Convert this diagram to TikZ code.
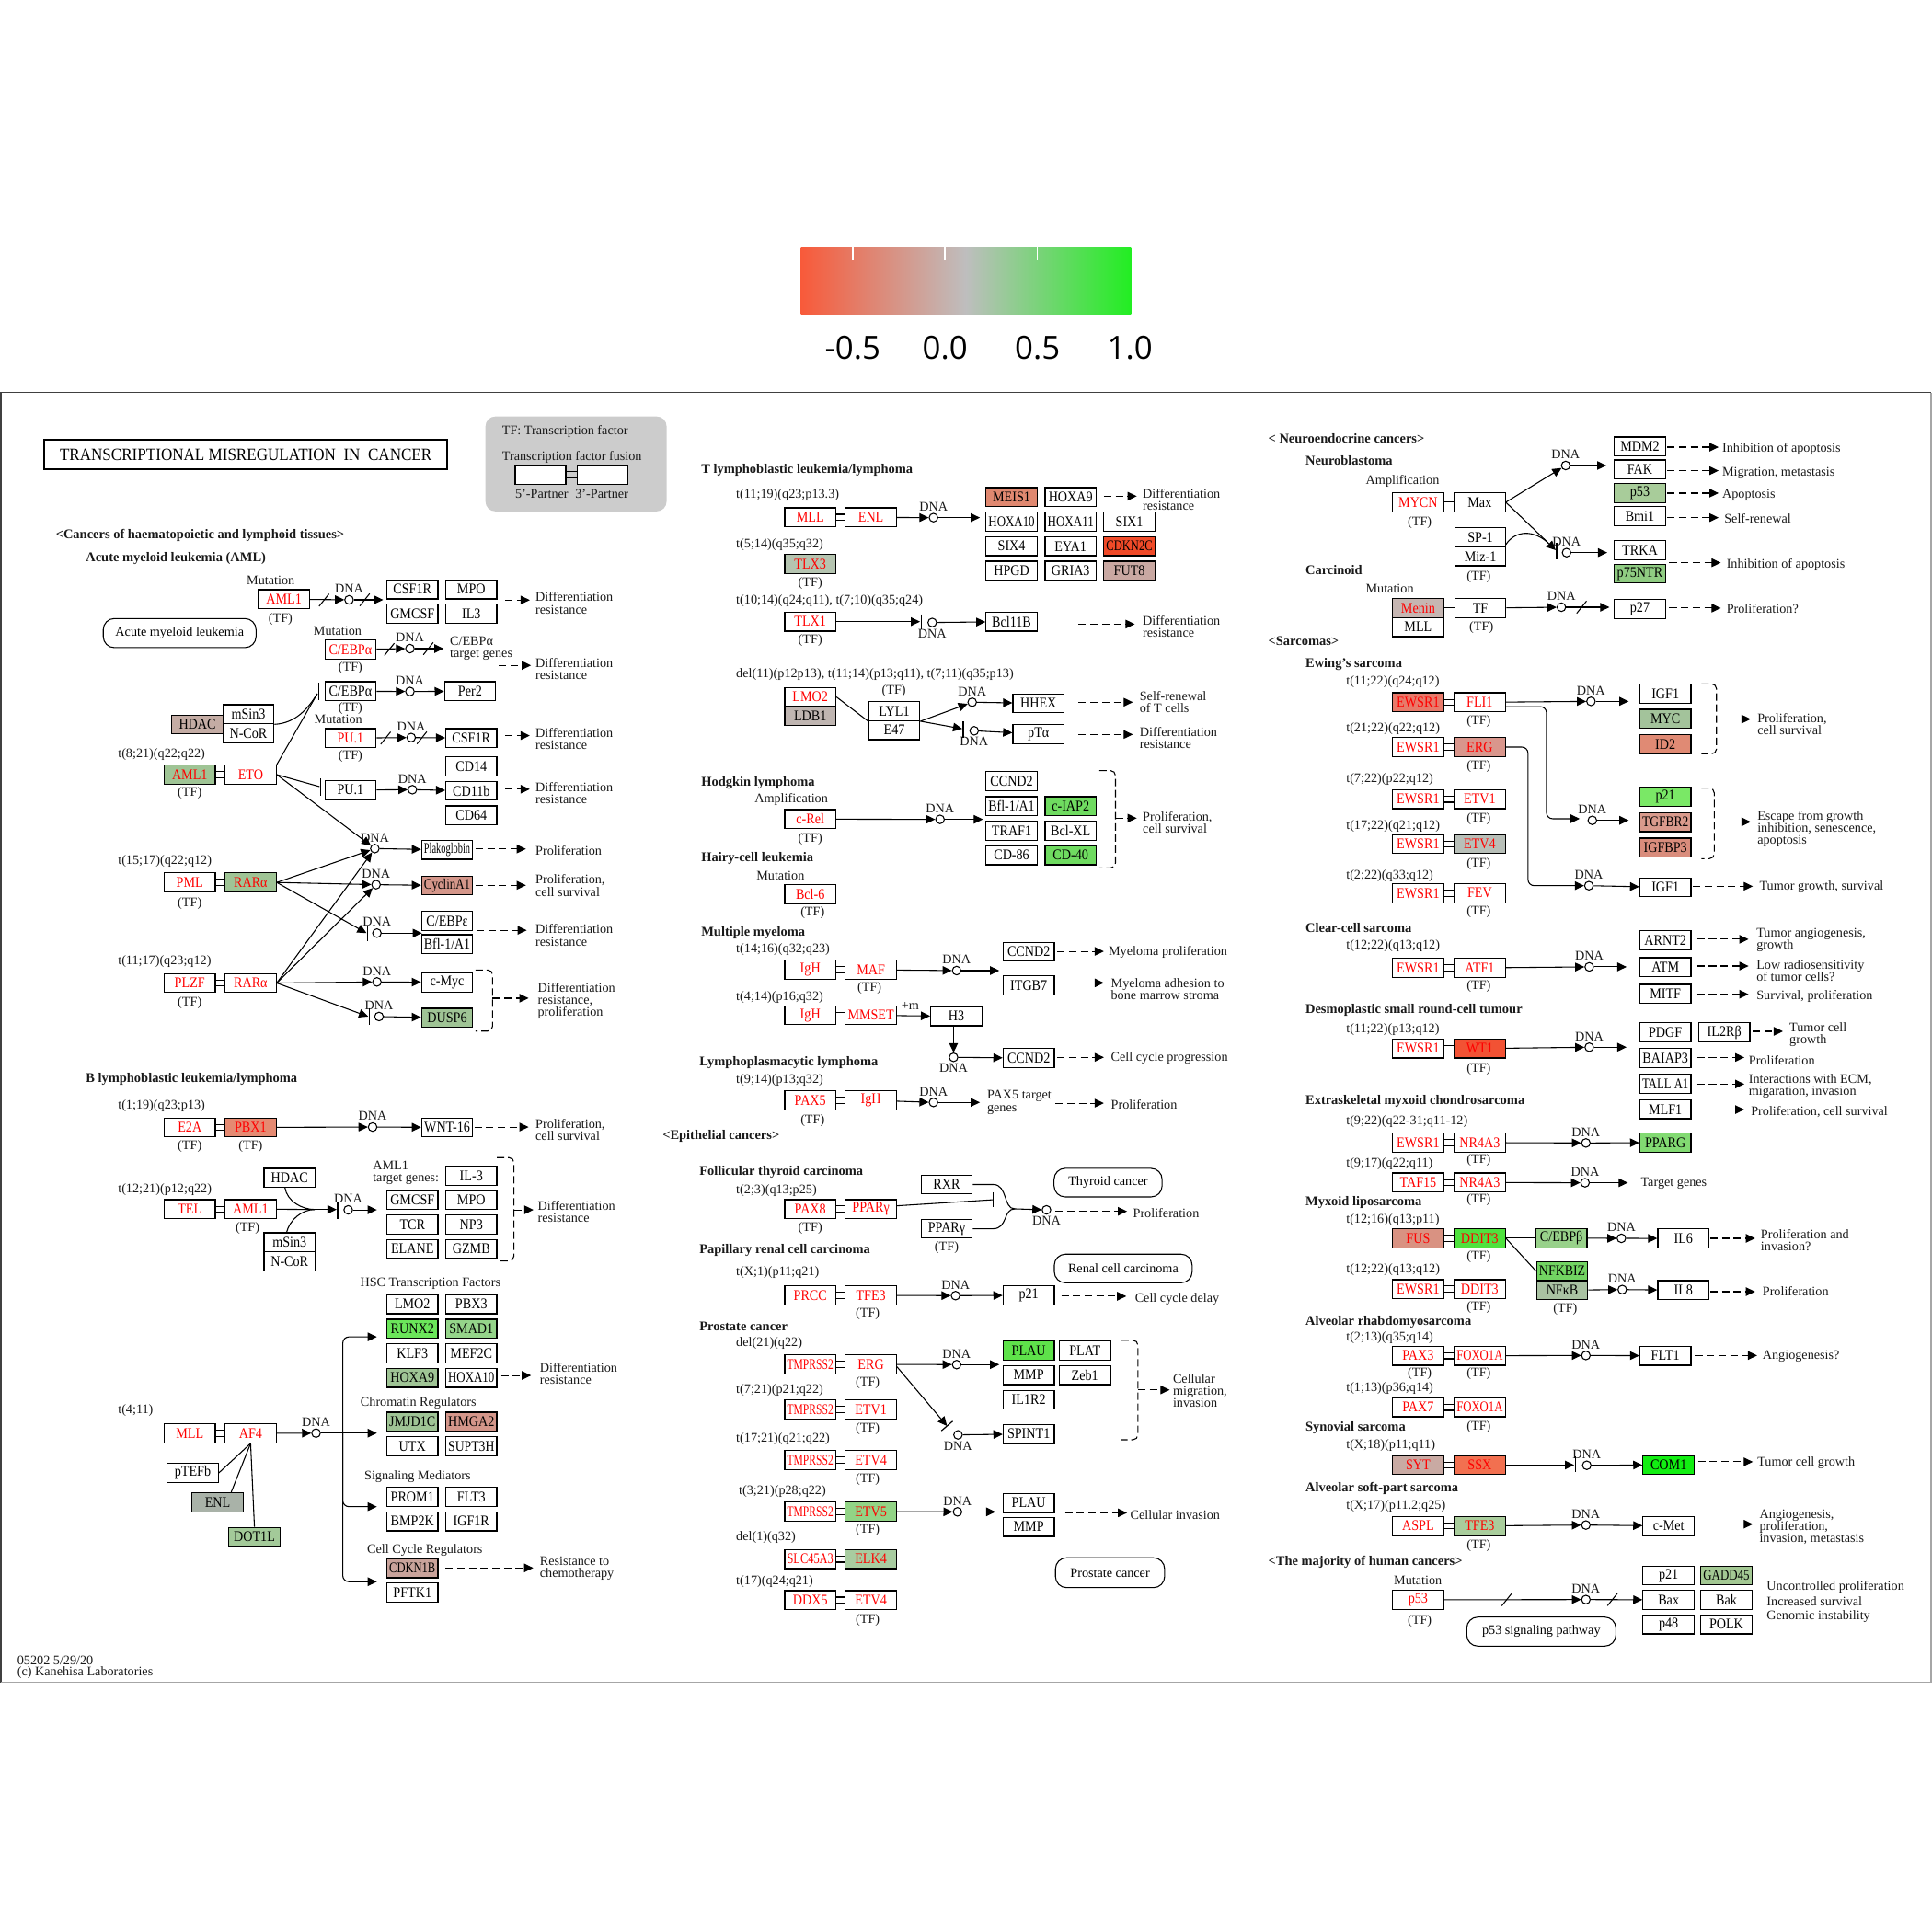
\documentclass[tikz,border=0pt]{standalone}
\usepackage{fontspec}
\setmainfont{Liberation Serif}
\newfontfamily\cbfont{Open Sans}
\usepackage{graphicx}
\usetikzlibrary{arrows.meta,positioning}

\definecolor{kred}{HTML}{FF0000}
\definecolor{cHdac}{HTML}{C4ACA4}
\definecolor{cGa}{HTML}{9FC495}
\definecolor{cCyc}{HTML}{D4968A}
\definecolor{cPbx}{HTML}{E58A72}
\definecolor{cRunx}{HTML}{6BE65A}
\definecolor{cSmad}{HTML}{95D58A}
\definecolor{cEnl}{HTML}{A9B2A8}
\definecolor{cDot}{HTML}{A3CA99}
\definecolor{cCdk}{HTML}{C9A39B}
\definecolor{cMeis}{HTML}{E08870}
\definecolor{cCdkc}{HTML}{F04A28}
\definecolor{cFut}{HTML}{C9A8A2}
\definecolor{cTlx}{HTML}{B5C4B0}
\definecolor{cLdb}{HTML}{BFB5B1}
\definecolor{cBrG}{HTML}{6FDB60}
\definecolor{cPlau}{HTML}{5EE24A}
\definecolor{cEtv5}{HTML}{92D486}
\definecolor{cElk}{HTML}{A8CCA0}
\definecolor{cP53}{HTML}{A8CC9A}
\definecolor{cP75}{HTML}{8FCC82}
\definecolor{cMen}{HTML}{C6B6B2}
\definecolor{cEws}{HTML}{E87A6A}
\definecolor{cMyc}{HTML}{A3C39B}
\definecolor{cId}{HTML}{E08A74}
\definecolor{cErg}{HTML}{D9968C}
\definecolor{cP21}{HTML}{7AE866}
\definecolor{cTgf}{HTML}{D99A8C}
\definecolor{cIgfbp}{HTML}{D98C7C}
\definecolor{cEtv4}{HTML}{B8BFB8}
\definecolor{cWt}{HTML}{F25234}
\definecolor{cPparg}{HTML}{82DA72}
\definecolor{cFus}{HTML}{D99282}
\definecolor{cDdit}{HTML}{4FE23E}
\definecolor{cCebpb}{HTML}{98D18A}
\definecolor{cNfkbiz}{HTML}{72D462}
\definecolor{cNfkb}{HTML}{A9C2A2}
\definecolor{cSyt}{HTML}{C9AAA3}
\definecolor{cSsx}{HTML}{F27050}
\definecolor{cCom}{HTML}{12EE12}
\definecolor{cTfe}{HTML}{A9CD9C}
\definecolor{cGadd}{HTML}{A3C893}
\definecolor{cLeg}{HTML}{CCCCCC}
\definecolor{cbL}{HTML}{F85A3A}
\definecolor{cbM}{HTML}{BEBEBE}
\definecolor{cbR}{HTML}{22EE22}

\newsavebox\gbox
\newcommand\fitg[1]{\sbox\gbox{#1}\pgfmathsetmacro\gfac{min(0.88,37.5/\the\wd\gbox)}\scalebox{\gfac}[1]{\usebox\gbox}}
\newcommand\gfont{\fontsize{12}{12}\selectfont}
\newcommand\lfont{\fontsize{10.6}{9.8}\selectfont}
\newcommand\hfont{\fontsize{10.8}{11}\selectfont\bfseries}

\tikzset{
 gene/.style={draw, line width=0.9pt, minimum width=41.5pt, minimum height=15.4pt, inner sep=0pt, font=\gfont},
 mut/.style={text=kred},
 dnac/.style={circle, draw, fill=white, minimum size=7pt, inner sep=0pt, line width=0.8pt},
 lab/.style={font=\lfont, inner sep=0pt, align=left, text=black!90},
 arr/.style={-{Triangle[length=7.5pt,width=7pt]}, line width=0.8pt},
 darr/.style={arr, dash pattern=on 6pt off 3.5pt},
 ln/.style={line width=0.8pt},
 brkt/.style={line width=0.8pt, dash pattern=on 6pt off 3pt, rounded corners=4pt},
 pill/.style={draw, line width=0.8pt, rounded corners=9pt, font=\lfont, inner sep=0pt},
}

\newcounter{tc}
\newcommand\gn[5]{\node[gene,fill=#4,#5] (#1) at (#2) {\fitg{#3}};}
\newcommand\dn[3]{\node[dnac] (#1) at (#2) {}; \node[lab,#3=1.3pt of #1] (#1l) {DNA};}
\newcommand\tx[3][west]{\stepcounter{tc}\node[lab,anchor=#1] (tx\arabic{tc}) at (#2) {#3};}
\newcommand\hd[2]{\stepcounter{tc}\node[lab,font=\hfont,anchor=west] (tx\arabic{tc}) at (#1) {#2};}
\newcommand\TF[1]{\tx[center]{#1}{(TF)}}
\newcommand\fus[2]{\draw[ln] ([yshift=2.5pt]#1.east) -- ([yshift=2.5pt]#2.west); \draw[ln] ([yshift=-2.5pt]#1.east) -- ([yshift=-2.5pt]#2.west);}
\newcommand\brk[4]{\draw[brkt] (#1,#3) -- (#2,#3) -- (#2,#4) -- (#1,#4);}
\newcommand\ibar[3]{\draw[line width=0.9pt] (#1,#2) -- (#1,#3);}
\newcommand\slsh[2]{\draw[ln] ({#1-4},{#2+5}) -- ({#1+4},{#2-5});}

\begin{document}
\begin{tikzpicture}[x=1pt,y=-1pt]
\useasboundingbox (0,0) rectangle (1568,1568);

% ---------- colour key ----------
\shade[left color=cbL, right color=cbR, middle color=cbM] (650,201) rectangle (918,255);
\foreach \t in {692,767,842} {\draw[white, line width=1.2pt] (\t,201) -- (\t,211);}
\node[font=\cbfont\fontsize{26}{26}\selectfont] (cb1) at (692,282) {-0.5};
\node[font=\cbfont\fontsize{26}{26}\selectfont] (cb2) at (767,282) {0.0};
\node[font=\cbfont\fontsize{26}{26}\selectfont] (cb3) at (842,282) {0.5};
\node[font=\cbfont\fontsize{26}{26}\selectfont] (cb4) at (917,282) {1.0};

% ---------- frame ----------
\draw[black!75, line width=1pt] (0.7,1365.5) -- (0.7,318.5) -- (1567.3,318.5);
\draw[black!35, line width=1pt] (0.7,1365.5) -- (1567.3,1365.5) -- (1567.3,318.5);

% ---------- title & legend ----------
\node[draw, line width=1.6pt, minimum width=327pt, minimum height=24pt, inner sep=0pt] (title) at (199.5,369) {\scalebox{0.91}[1]{\fontsize{14}{14}\selectfont TRANSCRIPTIONAL MISREGULATION\ \ IN\ \ CANCER}};
\node[fill=cLeg, rounded corners=8pt, minimum width=147pt, minimum height=77pt, inner sep=0pt] (legend) at (467.5,376.5) {};
\tx{407.4,350.4}{TF: Transcription factor}
\tx{407.4,370.8}{Transcription factor fusion}
\node[draw, fill=white, line width=0.9pt, minimum width=41pt, minimum height=15.5pt, inner sep=0pt] (lg5) at (438.7,385.5) {};
\node[draw, fill=white, line width=0.9pt, minimum width=41pt, minimum height=15.5pt, inner sep=0pt] (lg3) at (489,385.5) {};
\fus{lg5}{lg3}
\tx[center]{439.7,400.7}{5'-Partner}
\tx[center]{488.4,400.7}{3'-Partner}

% ================= AML =================
\hd{45.2,434.3}{<Cancers of haematopoietic and lymphoid tissues>}
\hd{69.5,453}{Acute myeloid leukemia (AML)}
\tx[center]{219.7,471.2}{Mutation}
\gn{a1}{230.5,486.3}{AML1}{white}{mut}
\TF{227.7,502.8}
\dn{d1}{283.3,486.8}{above}
\gn{csf1r}{334.7,478.3}{CSF1R}{white}{}
\gn{mpo}{382.5,478.3}{MPO}{white}{}
\gn{gmcsf}{334.7,498}{GMCSF}{white}{}
\gn{il3}{382.5,498}{IL3}{white}{}
\tx{434.5,489.5}{Differentiation\\resistance}
\node[pill, minimum width=124pt, minimum height=23.6pt] (amlbox) at (145.8,513.8) {Acute myeloid leukemia};
\tx[center]{274,512.2}{Mutation}
\gn{cebpa1}{284.4,527}{C/EBPα}{white}{mut}
\TF{284.4,541.8}
\dn{d2}{332.7,526.4}{above}
\tx{365,526.2}{C/EBPα\\target genes}
\tx{434.5,542.6}{Differentiation\\resistance}
\gn{cebpa2}{284.4,561}{C/EBPα}{white}{}
\TF{284.4,575}
\dn{d3}{332.7,561.2}{above}
\gn{per2}{381.5,561}{Per2}{white}{}
\gn{hdac}{160.2,588}{HDAC}{cHdac}{}
\gn{msin3}{201.6,579.7}{mSin3}{white}{}
\gn{ncor}{201.6,595.1}{N-CoR}{white}{}
\tx[center]{274.6,584.1}{Mutation}
\gn{pu1r}{284.4,599}{PU.1}{white}{mut}
\TF{284.4,613.5}
\dn{d4}{333.7,598.6}{above}
\gn{csf1rb}{382.5,599}{CSF1R}{white}{}
\tx{434.5,599.3}{Differentiation\\resistance}
\tx{95.6,612.3}{t(8;21)(q22;q22)}
\gn{aml1b}{154,628.7}{AML1}{cGa}{mut}
\gn{eto}{203.4,628.7}{ETO}{white}{mut}
\TF{154,643.4}
\gn{pu1b}{284.4,641.2}{PU.1}{white}{}
\dn{d5}{334.7,640.9}{above}
\gn{cd14}{382.5,622}{CD14}{white}{}
\gn{cd11b}{382.5,641.8}{CD11b}{white}{}
\gn{cd64}{382.5,661.8}{CD64}{white}{}
\tx{434.5,643.6}{Differentiation\\resistance}
\dn{d6}{304.2,688.7}{above}
\gn{plak}{362.9,689.7}{Plakoglobin}{white}{}
\tx{434.5,690}{Proliferation}
\tx{95.6,698.6}{t(15;17)(q22;q12)}
\gn{pml}{154,716.2}{PML}{white}{mut}
\gn{rara1}{203.4,716.2}{RARα}{cGa}{mut}
\TF{154,733}
\dn{d7}{305.2,718}{above}
\gn{cyca1}{362.9,718.7}{CyclinA1}{cCyc}{}
\tx{434.5,718.7}{Proliferation,\\cell survival}
\dn{d8}{305.9,757.3}{above}
\gn{cebpe}{362.9,747.3}{C/EBPε}{white}{}
\gn{bfl1}{362.9,766.3}{Bfl-1/A1}{white}{}
\tx{434.5,759}{Differentiation\\resistance}
\tx{95.6,780.3}{t(11;17)(q23;q12)}
\gn{plzf}{154,797.8}{PLZF}{white}{mut}
\gn{rara2}{203.4,797.8}{RARα}{white}{mut}
\TF{154,813.9}
\dn{d9}{305.9,796.9}{above}
\gn{cmyc}{362.9,797.3}{c-Myc}{white}{}
\dn{d10}{307.6,825}{above}
\gn{dusp6}{362.9,826}{DUSP6}{cGa}{}
\brk{385.9}{399.8}{787.2}{836.8}
\tx{436.3,812.1}{Differentiation\\resistance,\\proliferation}

\fus{aml1b}{eto} \fus{pml}{rara1} \fus{plzf}{rara2}
\draw[arr] (a1) -- (d1); \slsh{263}{487}
\draw[arr] (d1) -- (311,486.8); \slsh{296}{486.8}
\draw[darr] (410,487) -- (430,487);
\draw[arr] (cebpa1) -- (d2); \slsh{316}{527}
\draw[arr] (d2) -- (360,526.4); \slsh{347.6}{526.4}
\draw[darr] (405,540) -- (431,540);
\draw[arr] (cebpa2) -- (d3); \draw[arr] (d3) -- (per2);
\draw[arr] (pu1r) -- (d4); \slsh{313}{599}
\draw[arr] (d4) -- (csf1rb); \slsh{342.4}{598.8}
\draw[darr] (410,597) -- (430,597);
\draw[arr] (pu1b) -- (d5); \draw[arr] (d5) -- (cd11b);
\draw[darr] (410,640.5) -- (430,640.5);
\draw[ln] (msin3.south east) .. controls (240,587) and (250,575) .. (257.5,563);
\ibar{258.5}{554}{568}
\draw[ln] (eto.north east) -- (257.5,563);
\draw[ln] (eto.east) -- (259.3,638.4);
\ibar{260}{632}{646}
\draw[arr] (eto.east) -- (d6);
\draw[arr] (rara1.east) -- (d6);
\draw[arr] (rara1.east) -- (d7);
\draw[arr] (rara1.east) -- (297.5,757.3);
\ibar{298.2}{751}{764}
\draw[arr] (rara2.east) -- (d6);
\draw[arr] (rara2.east) -- (d7);
\draw[arr] (rara2.east) -- (d9);
\draw[arr] (rara2.east) -- (298.8,825);
\ibar{299.6}{818}{832}
\draw[arr] (d6) -- (plak); \draw[arr] (d7) -- (cyca1);
\draw[arr] (d8) -- (342.4,757.3);
\draw[arr] (d9) -- (cmyc); \draw[arr] (d10) -- (dusp6);
\draw[darr] (385.9,689) -- (426.9,689);
\draw[darr] (385.9,718.5) -- (426.9,718.5);
\draw[darr] (386.9,755) -- (427.5,755);
\draw[darr] (399.8,810.1) -- (429,810.1);

% ================= B lymphoblastic =================
\hd{69.5,876.1}{B lymphoblastic leukemia/lymphoma}
\tx{95.6,897.3}{t(1;19)(q23;p13)}
\gn{e2a}{154,915}{E2A}{white}{mut}
\gn{pbx1}{203.4,915}{PBX1}{cPbx}{mut}
\TF{154,930.1} \TF{203.4,930.1}
\dn{d11}{302.4,914.7}{above}
\gn{wnt16}{362.9,915}{WNT-16}{white}{}
\tx{434.5,916.7}{Proliferation,\\cell survival}
\tx{95.6,965.2}{t(12;21)(p12;q22)}
\gn{tel}{154,981.4}{TEL}{white}{mut}
\gn{aml1c}{203.4,981.4}{AML1}{white}{mut}
\TF{200.9,996.8}
\gn{hdacb}{235,956}{HDAC}{white}{}
\gn{msin3b}{235,1008.2}{mSin3}{white}{}
\gn{ncorb}{235,1023.6}{N-CoR}{white}{}
\dn{d12}{282.6,981.9}{above}
\tx{302.4,951.8}{AML1\\target genes:}
\gn{il3b}{382.5,954.2}{IL-3}{white}{}
\gn{gmcsfb}{334.7,973.9}{GMCSF}{white}{}
\gn{mpob}{382.5,973.9}{MPO}{white}{}
\gn{tcr}{334.7,993.8}{TCR}{white}{}
\gn{np3}{382.5,993.8}{NP3}{white}{}
\gn{elane}{334.7,1013.7}{ELANE}{white}{}
\gn{gzmb}{382.5,1013.7}{GZMB}{white}{}
\brk{403.2}{417.1}{939.5}{1023.4}
\tx{436.3,983.6}{Differentiation\\resistance}
\fus{e2a}{pbx1} \fus{tel}{aml1c}
\draw[arr] (pbx1) -- (d11); \draw[arr] (d11) -- (wnt16);
\draw[darr] (385,914.7) -- (429,914.7);
\coordinate (jt) at (255.5,981.6);
\draw[ln] (aml1c.east) -- (jt);
\draw[ln] (231.2,963.7) .. controls (233,975) and (245,981.6) .. (jt);
\draw[ln] (232.5,1000.5) .. controls (235,990) and (245,981.6) .. (jt);
\draw[arr] (jt) -- (273.2,981.6);
\ibar{274}{975}{989}
\draw[arr] (d12) -- (305.9,981.9);
\draw[darr] (417.1,981.9) -- (433,981.9);

% HSC etc
\tx[center]{349.3,1041.6}{HSC Transcription Factors}
\gn{lmo2b}{334.7,1058.5}{LMO2}{white}{}
\gn{pbx3}{382.5,1058.5}{PBX3}{white}{}
\gn{runx2}{334.7,1078.4}{RUNX2}{cRunx}{}
\gn{smad1}{382.5,1078.4}{SMAD1}{cSmad}{}
\gn{klf3}{334.7,1098.3}{KLF3}{white}{}
\gn{mef2c}{382.5,1098.3}{MEF2C}{white}{}
\gn{hoxa9b}{334.7,1118.2}{HOXA9}{cGa}{}
\gn{hoxa10b}{382.5,1118.2}{HOXA10}{white}{}
\tx{438,1114.5}{Differentiation\\resistance}
\tx[center]{339.6,1138.6}{Chromatin Regulators}
\gn{jmjd1c}{334.7,1153.8}{JMJD1C}{cGa}{}
\gn{hmga2}{382.5,1153.8}{HMGA2}{cCyc}{}
\gn{utx}{334.7,1173.7}{UTX}{white}{}
\gn{supt3h}{382.5,1173.7}{SUPT3H}{white}{}
\tx[center]{338.9,1198.4}{Signaling Mediators}
\gn{prom1}{334.7,1214.8}{PROM1}{white}{}
\gn{flt3}{382.5,1214.8}{FLT3}{white}{}
\gn{bmp2k}{334.7,1234.7}{BMP2K}{white}{}
\gn{igf1r}{382.5,1234.7}{IGF1R}{white}{}
\tx[center]{344.8,1258.1}{Cell Cycle Regulators}
\gn{cdkn1b}{334.7,1272.8}{CDKN1B}{cCdk}{}
\gn{pftk1}{334.7,1292.5}{PFTK1}{white}{}
\tx{438,1273.1}{Resistance to\\chemotherapy}
\tx{95.6,1144.4}{t(4;11)}
\gn{mll}{154,1163.3}{MLL}{white}{mut}
\gn{af4}{203.4,1163.3}{AF4}{white}{mut}
\dn{d13}{256.5,1163.1}{above}
\gn{ptefb}{156.4,1195.4}{pTEFb}{white}{}
\gn{enlb}{176.6,1219.3}{ENL}{cEnl}{}
\gn{dot1l}{206.5,1247.3}{DOT1L}{cDot}{}
\fus{mll}{af4}
\draw[arr] (af4) -- (d13);
\draw[arr] (d13) -- (305.9,1163.1);
\draw[arr, rounded corners=5pt] (278.2,1163.1) -- (278.2,1085) -- (305.9,1085);
\draw[arr, rounded corners=5pt] (278.2,1163.1) -- (278.2,1222.8) -- (305.9,1222.8);
\draw[arr, rounded corners=5pt] (278.2,1163.1) -- (278.2,1283.7) -- (305.9,1283.7);
\draw[ln] (af4.south) -- (ptefb.east);
\draw[ln] (af4.south) -- ([xshift=11pt]enlb.north);
\draw[ln] (af4.south) -- (dot1l.north);
\draw[darr] (406.7,1116.3) -- (431,1116.3);
\draw[darr] (361.5,1272.5) -- (432.8,1272.5);
\tx{13.9,1347.7}{05202 5/29/20}
\tx{13.9,1357.7}{(c) Kanehisa Laboratories}

% ================= T lymphoblastic =================
\hd{569,381.3}{T lymphoblastic leukemia/lymphoma}
\tx{597.3,401.9}{t(11;19)(q23;p13.3)}
\gn{mllb}{657.6,419.9}{MLL}{white}{mut}
\gn{enl}{706.8,419.9}{ENL}{white}{mut}
\dn{d14}{757.6,420.1}{above}
\gn{meis1}{821,403.4}{MEIS1}{cMeis}{}
\gn{hoxa9c}{868.9,403.4}{HOXA9}{white}{}
\gn{hoxa10c}{821,423.3}{HOXA10}{white}{}
\gn{hoxa11}{868.9,423.3}{HOXA11}{white}{}
\gn{six1}{916.6,423.3}{SIX1}{white}{}
\gn{six4}{821,443.3}{SIX4}{white}{}
\gn{eya1}{868.9,443.3}{EYA1}{white}{}
\gn{cdkn2c}{916.6,443.3}{CDKN2C}{cCdkc}{}
\gn{hpgd}{821,463.2}{HPGD}{white}{}
\gn{gria3}{868.9,463.2}{GRIA3}{white}{}
\gn{fut8}{916.6,463.2}{FUT8}{cFut}{}
\tx{927.3,405.2}{Differentiation\\resistance}
\tx{597.3,441.8}{t(5;14)(q35;q32)}
\gn{tlx3}{657.6,457.7}{TLX3}{cTlx}{mut}
\TF{657.6,473.4}
\tx{597.3,487.3}{t(10;14)(q24;q11), t(7;10)(q35;q24)}
\gn{tlx1}{657.6,504.5}{TLX1}{white}{mut}
\TF{657.6,519.7}
\dn{d15}{756.6,505.2}{below}
\gn{bcl11b}{821,504.5}{Bcl11B}{white}{}
\tx{927.3,508.5}{Differentiation\\resistance}
\tx{597.3,547.5}{del(11)(p12p13), t(11;14)(p13;q11), t(7;11)(q35;p13)}
\gn{lmo2}{657.6,565.6}{LMO2}{white}{mut}
\gn{ldb1}{657.6,581}{LDB1}{cLdb}{}
\TF{725.5,560.7}
\gn{lyl1}{725.8,577.2}{LYL1}{white}{}
\gn{e47}{725.8,592.6}{E47}{white}{}
\dn{d16}{789,569.9}{above}
\gn{hhex}{842.8,570.8}{HHEX}{white}{}
\tx{924.8,569.5}{Self-renewal\\of T cells}
\dn{d17}{790.6,593.1}{below}
\gn{pta}{842.8,595.8}{pTα}{white}{}
\tx{924.8,598.6}{Differentiation\\resistance}
\fus{mllb}{enl}
\draw[arr] (enl) -- (d14); \draw[arr] (d14) -- (795.3,420.1);
\draw[darr] (895.9,402.7) -- (922.6,402.7);
\draw[arr] (tlx1.east) -- (746.7,504.5);
\ibar{747.5}{498.5}{511}
\draw[arr] (d15) -- (bcl11b);
\draw[darr] (875.4,506.5) -- (921,506.5);
\draw[ln] (lmo2.east) -- (lyl1.south west);
\draw[arr] (lyl1.south east) -- (d16);
\draw[arr] (lyl1.south east) -- (781,591.5);
\ibar{781.8}{585.5}{599}
\draw[arr] (d16) -- (hhex); \draw[arr] (d17) -- (pta);
\draw[darr] (875.4,569.9) -- (919.4,569.9);
\draw[darr] (875.4,596.1) -- (919.4,596.1);

% Hodgkin
\hd{569,635.2}{Hodgkin lymphoma}
\tx[center]{642.2,649.1}{Amplification}
\gn{crel}{657.6,664.8}{c-Rel}{white}{mut}
\TF{657.6,680.7}
\dn{d18}{762.9,665}{above}
\gn{ccnd2a}{821,633.8}{CCND2}{white}{}
\gn{bfl1b}{821,654.3}{Bfl-1/A1}{white}{}
\gn{ciap2}{868.9,654.3}{c-IAP2}{cBrG}{}
\gn{traf1}{821,674.2}{TRAF1}{white}{}
\gn{bclxl}{868.9,674.2}{Bcl-XL}{white}{}
\gn{cd86}{821,694.1}{CD-86}{white}{}
\gn{cd40}{868.9,694.1}{CD-40}{cBrG}{}
\brk{892.1}{905.3}{625.4}{704.4}
\tx{927.3,667.5}{Proliferation,\\cell survival}
\draw[arr] (crel) -- (d18); \draw[arr] (d18) -- (797.8,665);
\draw[darr] (905.3,664) -- (922.6,664);
\hd{569,696.9}{Hairy-cell leukemia}
\tx[center]{633.4,710.6}{Mutation}
\gn{bcl6}{657.6,725.8}{Bcl-6}{white}{mut}
\TF{659.5,740.9}

% Multiple myeloma
\hd{569,757.1}{Multiple myeloma}
\tx{597.3,770.8}{t(14;16)(q32;q23)}
\gn{igha}{657.6,787.1}{IgH}{white}{mut}
\gn{maf}{706.8,787.1}{MAF}{white}{mut}
\TF{705.7,802.1}
\dn{d19}{776.4,787.7}{above}
\gn{ccnd2b}{834.9,772.4}{CCND2}{white}{}
\gn{itgb7}{834.9,799.6}{ITGB7}{white}{}
\tx{899.6,772.8}{Myeloma proliferation}
\tx{901.5,802.7}{Myeloma adhesion to\\bone marrow stroma}
\tx{597.3,809.4}{t(4;14)(p16;q32)}
\gn{ighb}{657.6,824}{IgH}{white}{mut}
\gn{mmset}{706.8,824}{MMSET}{white}{mut}
\tx[center]{738.7,816.8}{+m}
\gn{h3}{776.1,824.8}{H3}{white}{}
\dn{d20}{773.9,858.1}{below}
\gn{ccnd2c}{834.9,858.7}{CCND2}{white}{}
\tx{901.5,858.6}{Cell cycle progression}
\fus{igha}{maf} \fus{ighb}{mmset}
\draw[arr] (maf) -- (d19); \draw[arr] (d19) -- (811,787.7);
\draw[darr] (858.1,772.1) -- (895.9,772.1);
\draw[darr] (858.1,797.7) -- (895.9,797.7);
\draw[arr] (mmset) -- (h3);
\draw[arr] (773.9,832.5) -- (d20);
\draw[arr] (d20) -- (ccnd2c);
\draw[darr] (858.1,858.1) -- (895.9,858.1);

% Lymphoplasmacytic
\hd{567.5,862.4}{Lymphoplasmacytic lymphoma}
\tx{597.3,876.6}{t(9;14)(p13;q32)}
\gn{pax5}{657.6,893}{PAX5}{white}{mut}
\gn{ighc}{706.8,893}{IgH}{white}{mut}
\TF{659.5,909.7}
\dn{d21}{757.6,894.7}{above}
\tx{801,894.8}{PAX5 target\\genes}
\tx{901.5,896.5}{Proliferation}
\fus{pax5}{ighc}
\draw[arr] (ighc) -- (d21); \draw[arr] (d21) -- (795.3,894.7);
\draw[darr] (856.6,895.3) -- (895.9,895.3);

% ================= Epithelial =================
\hd{537.6,922.1}{<Epithelial cancers>}
\hd{567.5,951.5}{Follicular thyroid carcinoma}
\tx{597.3,966.2}{t(2;3)(q13;p25)}
\gn{pax8}{657.6,981.3}{PAX8}{white}{mut}
\gn{ppargf}{706.8,981.3}{PPARγ}{white}{mut}
\TF{657.6,996.8}
\gn{rxr}{768.3,961.3}{RXR}{white}{}
\gn{ppargb}{768.3,997.2}{PPARγ}{white}{}
\TF{768.3,1012.5}
\dn{d22}{849.3,981.9}{below}
\tx{919.4,984.8}{Proliferation}
\node[pill, minimum width=87.7pt, minimum height=23.2pt] (thyr) at (899.3,959.8) {Thyroid cancer};
\fus{pax8}{ppargf}
\draw[ln] ([yshift=2.7pt]ppargf.east) -- (805.8,973.7);
\ibar{806.3}{967.5}{979.5}
\coordinate (jy) at (823.6,981.1);
\draw[ln] (rxr.east) -- (806,961.3) .. controls (818,961.3) and (814,981.1) .. (jy);
\draw[ln] (ppargb.east) -- (806,997.2) .. controls (818,997.2) and (814,981.1) .. (jy);
\draw[arr] (jy) -- (d22);
\draw[darr] (856.6,983.1) -- (914.7,983.1);

\hd{567.5,1014.7}{Papillary renal cell carcinoma}
\tx{597.3,1032.4}{t(X;1)(p11;q21)}
\gn{prcc}{657.6,1051.3}{PRCC}{white}{mut}
\gn{tfe3a}{706.8,1051.3}{TFE3}{white}{mut}
\TF{704.2,1066.5}
\dn{d23}{775.5,1051.5}{above}
\gn{p21a}{834.9,1051.3}{p21}{white}{}
\tx{921,1054}{Cell cycle delay}
\node[pill, minimum width=111.9pt, minimum height=23.2pt] (renal) at (911.6,1029.5) {Renal cell carcinoma};
\fus{prcc}{tfe3a}
\draw[arr] (tfe3a) -- (d23); \draw[arr] (d23) -- (p21a);
\draw[darr] (861.3,1052) -- (914.1,1052);

\hd{567.5,1076.9}{Prostate cancer}
\tx{597.3,1090.1}{del(21)(q22)}
\gn{tmpa}{657.6,1107.3}{TMPRSS2}{white}{mut}
\gn{erga}{706.8,1107.3}{ERG}{white}{mut}
\TF{704.2,1122.5}
\dn{d24}{776.4,1107.5}{above}
\gn{plaua}{834.9,1096.1}{PLAU}{cPlau}{}
\gn{plat}{880.5,1096.1}{PLAT}{white}{}
\gn{mmpa}{834.9,1116}{MMP}{white}{}
\gn{zeb1}{880.5,1116}{Zeb1}{white}{}
\gn{il1r2}{834.9,1136}{IL1R2}{white}{}
\gn{spint1}{834.9,1163.8}{SPINT1}{white}{}
\dn{d25}{777.5,1164.5}{below}
\brk{910}{923.5}{1087.7}{1168.5}
\tx{951.8,1128.7}{Cellular\\migration,\\invasion}
\tx{597.3,1128}{t(7;21)(p21;q22)}
\gn{tmpb}{657.6,1143.9}{TMPRSS2}{white}{mut}
\gn{etv1a}{706.8,1143.9}{ETV1}{white}{mut}
\TF{704.2,1159.3}
\tx{597.3,1168}{t(17;21)(q21;q22)}
\gn{tmpc}{657.6,1185.1}{TMPRSS2}{white}{mut}
\gn{etv4a}{706.8,1185.1}{ETV4}{white}{mut}
\TF{704.2,1200.9}
\tx{599.5,1210.3}{t(3;21)(p28;q22)}
\gn{tmpd}{657.6,1226.8}{TMPRSS2}{white}{mut}
\gn{etv5}{706.8,1226.8}{ETV5}{cEtv5}{mut}
\TF{704.2,1241.5}
\dn{d26}{777.1,1227}{above}
\gn{plaub}{834.9,1219.8}{PLAU}{white}{}
\gn{mmpb}{834.9,1239.2}{MMP}{white}{}
\tx{917.2,1229.5}{Cellular invasion}
\tx{597.3,1247.7}{del(1)(q32)}
\gn{slc}{657.6,1265.3}{SLC45A3}{white}{mut}
\gn{elk4}{706.8,1265.3}{ELK4}{cElk}{mut}
\tx{597.3,1283.5}{t(17)(q24;q21)}
\gn{ddx5}{657.6,1298.7}{DDX5}{white}{mut}
\gn{etv4b}{706.8,1298.7}{ETV4}{white}{mut}
\TF{704.2,1314.6}
\node[pill, minimum width=88.6pt, minimum height=24.2pt] (prost) at (900.9,1276.4) {Prostate cancer};
\fus{tmpa}{erga} \fus{tmpb}{etv1a} \fus{tmpc}{etv4a} \fus{tmpd}{etv5} \fus{slc}{elk4} \fus{ddx5}{etv4b}
\draw[arr] (erga) -- (d24); \draw[arr] (d24) -- (811,1107.5);
\draw[arr] ([yshift=-2pt]erga.east) -- (768.6,1157.3);
\draw[line width=0.9pt] (764,1161.2) -- (773.2,1153.4);
\draw[arr] (d25) -- (spint1);
\draw[darr] (923.5,1128) -- (949.3,1128);
\draw[arr] (etv5) -- (d26); \draw[arr] (d26) -- (807.9,1227);
\draw[darr] (864.4,1227.8) -- (914.7,1227.8);

% ================= Neuroendocrine =================
\hd{1029.2,355.9}{< Neuroendocrine cancers>}
\hd{1059.4,374.1}{Neuroblastoma}
\tx[center]{1138.3,390.3}{Amplification}
\gn{mycn}{1150.9,407.6}{MYCN}{white}{mut}
\gn{max}{1200.9,407.6}{Max}{white}{}
\TF{1152.2,424.3}
\dn{d27}{1270.7,377.8}{above}
\gn{mdm2}{1330.9,362.4}{MDM2}{white}{}
\gn{fak}{1330.9,381}{FAK}{white}{}
\gn{p53a}{1330.9,400.1}{p53}{cP53}{}
\gn{bmi1}{1330.9,418.9}{Bmi1}{white}{}
\tx{1397.6,364.6}{Inhibition of apoptosis}
\tx{1397.6,383.8}{Migration, metastasis}
\tx{1397.6,402}{Apoptosis}
\tx{1399.3,420.6}{Self-renewal}
\gn{sp1}{1201.4,436.2}{SP-1}{white}{}
\gn{miz1}{1201.4,451.5}{Miz-1}{white}{}
\TF{1200.2,467.9}
\dn{d28}{1271.4,448.5}{above}
\gn{trka}{1330.9,446.5}{TRKA}{white}{}
\gn{p75}{1330.9,465.6}{p75NTR}{cP75}{}
\tx{1401.1,458.4}{Inhibition of apoptosis}
\hd{1059.4,462.9}{Carcinoid}
\tx[center]{1127.9,477.4}{Mutation}
\gn{menin}{1150.9,493.5}{Menin}{cMen}{mut}
\gn{mllc}{1150.9,509}{MLL}{white}{}
\gn{tf}{1201.4,493.5}{TF}{white}{}
\TF{1202.3,509}
\dn{d29}{1267.2,492.8}{above}
\gn{p27}{1330.9,494.3}{p27}{white}{}
\tx{1401.1,494}{Proliferation?}
\draw[ln] (mycn) -- (max);
\draw[arr] (max.east) -- (d27);
\draw[arr] (d27) -- (1303.7,377.8);
\draw[darr] (1353.1,362.9) -- (1394.8,362.9);
\draw[darr] (1353.1,382) -- (1394.8,382);
\draw[darr] (1353.1,400.2) -- (1394.8,400.2);
\draw[darr] (1353.1,420.1) -- (1394.8,420.1);
\draw[arr] (max.east) -- (1262.6,446.5);
\draw[ln] (1222.1,442) .. controls (1230,430) and (1245,430) .. (1256.5,440.7);
\ibar{1263.4}{440.5}{454.2}
\draw[arr] (d28) -- (1304.4,448.5);
\draw[darr] (1354.8,456.7) -- (1396.6,456.7);
\draw[ln] (menin) -- (tf);
\draw[arr] (tf) -- (d29);
\draw[arr] (d29) -- (1306.2,492.8); \slsh{1283.6}{492.8}
\draw[darr] (1354.8,493.5) -- (1396.6,493.5);

% ================= Sarcomas =================
\hd{1029.2,520.2}{<Sarcomas>}
\hd{1059.4,538.8}{Ewing's sarcoma}
\tx{1092.4,553}{t(11;22)(q24;q12)}
\gn{ewsa}{1150.9,570}{EWSR1}{cEws}{mut}
\gn{fli1}{1200.9,570}{FLI1}{white}{mut}
\TF{1200.2,585.4}
\dn{d30}{1291.2,569.2}{above}
\gn{igf1a}{1351.6,562.9}{IGF1}{white}{}
\gn{myc}{1351.6,583.3}{MYC}{cMyc}{}
\gn{id2}{1351.6,604.2}{ID2}{cId}{}
\brk{1380.9}{1393.1}{555}{611.8}
\tx{1426.1,587.6}{Proliferation,\\cell survival}
\tx{1092.4,591.1}{t(21;22)(q22;q12)}
\gn{ewsb}{1150.9,606.3}{EWSR1}{white}{mut}
\gn{erg2}{1200.9,606.3}{ERG}{cErg}{mut}
\TF{1200.2,622.2}
\tx{1092.4,632.2}{t(7;22)(p22;q12)}
\gn{ewsc}{1150.9,648.6}{EWSR1}{white}{mut}
\gn{etv1b}{1200.9,648.6}{ETV1}{white}{mut}
\TF{1200.2,664.5}
\tx{1092.4,670.8}{t(17;22)(q21;q12)}
\gn{ewsd}{1150.9,685.1}{EWSR1}{white}{mut}
\gn{etv4c}{1200.9,685.1}{ETV4}{cEtv4}{mut}
\TF{1200.2,701.1}
\tx{1092.4,710.6}{t(2;22)(q33;q12)}
\gn{ewse}{1150.9,724.9}{EWSR1}{white}{mut}
\gn{fev}{1200.9,724.9}{FEV}{white}{mut}
\TF{1200.2,739.7}
\dn{d31}{1292.3,665.8}{above}
\gn{p21b}{1351.6,646.5}{p21}{cP21}{}
\gn{tgfbr2}{1351.6,667.3}{TGFBR2}{cTgf}{}
\gn{igfbp3}{1351.6,687.9}{IGFBP3}{cIgfbp}{}
\brk{1380.9}{1391.3}{639.6}{696.9}
\tx{1426.1,672.5}{Escape from growth\\inhibition, senescence,\\apoptosis}
\dn{d32}{1289.5,718.8}{above}
\gn{igf1b}{1351.6,720.1}{IGF1}{white}{}
\tx{1427.8,719.8}{Tumor growth, survival}
\fus{ewsa}{fli1} \fus{ewsb}{erg2} \fus{ewsc}{etv1b} \fus{ewsd}{etv4c} \fus{ewse}{fev}
\draw[arr] (fli1) -- (d30); \draw[arr] (d30) -- (1321.8,569.2);
\draw[darr] (1393.1,583.6) -- (1420.9,583.6);
\draw[arr, rounded corners=5pt] ([yshift=-3.5pt]fli1.east) -- (1255.1,573.5) -- (1255.1,664.5) -- (1282.1,664.5);
\ibar{1282.9}{657.1}{670.8}
\draw[arr] (d31) -- (1321.8,665.8);
\draw[darr] (1391.3,667) -- (1420.9,667);
\draw[arr, rounded corners=5pt] (erg2.east) -- (1240.1,606.3) -- (1240.1,718.8) -- (d32.west);
\draw[arr] (d32) -- (igf1b);
\draw[darr] (1374,719.3) -- (1422.6,719.3);

\hd{1059.4,752.9}{Clear-cell sarcoma}
\tx{1092.4,767.8}{t(12;22)(q13;q12)}
\gn{ewsf}{1150.9,785.5}{EWSR1}{white}{mut}
\gn{atf1}{1200.9,785.5}{ATF1}{white}{mut}
\TF{1200.2,800.2}
\dn{d33}{1289.8,784.7}{above}
\gn{arnt2}{1351.6,763.1}{ARNT2}{white}{}
\gn{atm}{1351.6,785}{ATM}{white}{}
\gn{mitf}{1351.6,806.7}{MITF}{white}{}
\tx{1425.4,762.9}{Tumor angiogenesis,\\growth}
\tx{1425.4,787.8}{Low radiosensitivity\\of tumor cells?}
\tx{1425.4,808.4}{Survival, proliferation}
\fus{ewsf}{atf1}
\draw[arr] (atf1) -- (d33); \draw[arr] (d33) -- (1320.1,784.7);
\draw[darr] (1377.4,762.3) -- (1419.1,762.3);
\draw[darr] (1377.4,784) -- (1419.1,784);
\draw[darr] (1377.4,806.9) -- (1419.1,806.9);

\hd{1059.4,820.1}{Desmoplastic small round-cell tumour}
\tx{1092.4,835.5}{t(11;22)(p13;q12)}
\gn{ewsg}{1150.9,851}{EWSR1}{white}{mut}
\gn{wt1}{1200.9,851}{WT1}{cWt}{mut}
\TF{1200.2,867.4}
\dn{d34}{1289.8,849.9}{above}
\gn{pdgf}{1351.6,837.8}{PDGF}{white}{}
\gn{il2rb}{1399.4,837.8}{IL2Rβ}{white}{}
\tx{1452.2,839.5}{Tumor cell\\growth}
\gn{baiap3}{1351.6,858.7}{BAIAP3}{white}{}
\tx{1419.1,860.7}{Proliferation}
\gn{talla1}{1351.6,879.8}{TALL A1}{white}{}
\tx{1419.1,881.6}{Interactions with ECM,\\migaration, invasion}
\gn{mlf1}{1351.6,900.3}{MLF1}{white}{}
\tx{1420.9,902.2}{Proliferation, cell survival}
\fus{ewsg}{wt1}
\draw[arr] (wt1) -- (d34); \draw[arr] (d34) -- (1320.1,849.9);
\draw[darr] (1422.6,837) -- (1447,837);
\draw[darr] (1377.4,858.2) -- (1415.7,858.2);
\draw[darr] (1377.4,879.8) -- (1415.7,879.8);
\draw[darr] (1377.4,900.5) -- (1415.7,900.5);

\hd{1059.4,894}{Extraskeletal myxoid chondrosarcoma}
\tx{1092.4,910.4}{t(9;22)(q22-31;q11-12)}
\gn{ewsh}{1150.9,927.3}{EWSR1}{white}{mut}
\gn{nr4a3a}{1200.9,927.3}{NR4A3}{white}{mut}
\TF{1200.2,941.5}
\dn{d35}{1287.1,927.6}{above}
\gn{ppargc}{1351.6,927.3}{PPARG}{cPparg}{}
\tx{1092.4,944.5}{t(9;17)(q22;q11)}
\gn{taf15}{1150.9,959.7}{TAF15}{white}{mut}
\gn{nr4a3b}{1200.9,959.7}{NR4A3}{white}{mut}
\TF{1200.2,973.9}
\dn{d36}{1286.4,959.9}{above}
\tx{1331.5,960.7}{Target genes}
\fus{ewsh}{nr4a3a} \fus{taf15}{nr4a3b}
\draw[arr] (nr4a3a) -- (d35); \draw[arr] (d35) -- (ppargc);
\draw[arr] (nr4a3b) -- (d36); \draw[arr] (d36) -- (1321.1,959.9);

\hd{1059.4,975.6}{Myxoid liposarcoma}
\tx{1092.4,990.1}{t(12;16)(q13;p11)}
\gn{fus}{1150.9,1004.9}{FUS}{cFus}{mut}
\gn{ddit3a}{1200.9,1004.9}{DDIT3}{cDdit}{mut}
\TF{1200.2,1019.9}
\gn{cebpb}{1267.2,1004.9}{C/EBPβ}{cCebpb}{}
\dn{d37}{1315.9,1005}{above}
\gn{il6}{1366.2,1005.1}{IL6}{white}{}
\tx{1428.9,1006.8}{Proliferation and\\invasion?}
\tx{1092.4,1030.4}{t(12;22)(q13;q12)}
\gn{ewsi}{1150.9,1046.3}{EWSR1}{white}{mut}
\gn{ddit3b}{1200.9,1046.3}{DDIT3}{white}{mut}
\TF{1200.2,1060.8}
\gn{nfkbiz}{1267.9,1031.7}{NFKBIZ}{cNfkbiz}{}
\gn{nfkb}{1267.9,1047.1}{NFκB}{cNfkb}{}
\TF{1270.4,1062.7}
\dn{d38}{1316.6,1046.6}{above}
\gn{il8}{1366.2,1047.1}{IL8}{white}{}
\tx{1430.3,1048.3}{Proliferation}
\fus{fus}{ddit3a} \fus{ewsi}{ddit3b}
\draw[ln] (ddit3a) -- (cebpb);
\draw[ln] (ddit3a.east) -- (nfkbiz.west);
\draw[arr] (cebpb) -- (d37); \draw[arr] (d37) -- (il6);
\draw[darr] (1387.9,1005) -- (1424.4,1005);
\draw[arr] (nfkb) -- (d38); \draw[arr] (d38) -- (il8);
\draw[darr] (1387.9,1048.3) -- (1424.4,1048.3);

\hd{1059.4,1072.7}{Alveolar rhabdomyosarcoma}
\tx{1092.4,1085.6}{t(2;13)(q35;q14)}
\gn{pax3}{1150.9,1100.3}{PAX3}{white}{mut}
\gn{foxo1a}{1200.9,1100.3}{FOXO1A}{white}{mut}
\TF{1152.2,1115} \TF{1200.2,1115}
\dn{d39}{1287.1,1100.1}{above}
\gn{flt1}{1351.6,1100.3}{FLT1}{white}{}
\tx{1430.3,1100.6}{Angiogenesis?}
\tx{1092.4,1126.9}{t(1;13)(p36;q14)}
\gn{pax7}{1150.9,1142.1}{PAX7}{white}{mut}
\gn{foxo1b}{1200.9,1142.1}{FOXO1A}{white}{mut}
\TF{1200.2,1157.8}
\fus{pax3}{foxo1a} \fus{pax7}{foxo1b}
\draw[arr] (foxo1a) -- (d39); \draw[arr] (d39) -- (flt1);
\draw[darr] (1375.7,1100.1) -- (1426.1,1100.1);

\hd{1059.4,1158.6}{Synovial sarcoma}
\tx{1092.4,1173}{t(X;18)(p11;q11)}
\gn{syt}{1150.9,1189}{SYT}{cSyt}{mut}
\gn{ssx}{1200.9,1189}{SSX}{cSsx}{mut}
\dn{d40}{1287.8,1189.2}{above}
\gn{com1}{1354.2,1188.9}{COM1}{cCom}{}
\tx{1426.1,1187.2}{Tumor cell growth}
\fus{syt}{ssx}
\draw[arr] (ssx) -- (1277.6,1189);
\ibar{1278.4}{1182.2}{1194.7}
\draw[arr] (d40) -- (com1);
\draw[darr] (1378.1,1186.4) -- (1422.6,1186.4);

\hd{1059.4,1207.8}{Alveolar soft-part sarcoma}
\tx{1092.4,1222}{t(X;17)(p11.2;q25)}
\gn{aspl}{1150.9,1238.4}{ASPL}{white}{mut}
\gn{tfe3b}{1200.9,1238.4}{TFE3}{cTfe}{mut}
\TF{1200.2,1254.4}
\dn{d41}{1287.1,1237.7}{above}
\gn{cmet}{1354.2,1238.4}{c-Met}{white}{}
\tx{1427.8,1239.5}{Angiogenesis,\\proliferation,\\invasion, metastasis}
\fus{aspl}{tfe3b}
\draw[arr] (tfe3b) -- (d41); \draw[arr] (d41) -- (cmet);
\draw[darr] (1379.9,1237) -- (1422.6,1237);

% majority
\hd{1029.2,1267.6}{<The majority of human cancers>}
\tx[center]{1150.8,1283}{Mutation}
\gn{p53b}{1150.9,1298.4}{p53}{white}{mut}
\TF{1152.2,1315.9}
\dn{d42}{1287.1,1298.2}{above}
\gn{p21c}{1354.2,1278.7}{p21}{white}{}
\gn{gadd45}{1401.1,1278.7}{GADD45}{cGadd}{}
\gn{bax}{1354.2,1298.4}{Bax}{white}{}
\gn{bak}{1401.1,1298.4}{Bak}{white}{}
\gn{p48}{1354.2,1318.4}{p48}{white}{}
\gn{polk}{1401.1,1318.4}{POLK}{white}{}
\tx{1433.7,1288}{Uncontrolled proliferation}
\tx{1433.7,1299.6}{Increased survival}
\tx{1433.7,1312.1}{Genomic instability}
\node[pill, minimum width=121pt, minimum height=23.6pt] (p53p) at (1250.9,1324.2) {p53 signaling pathway};
\draw[arr] (p53b) -- (d42); \slsh{1222.8}{1298.3}
\draw[arr] (d42) -- (bax); \slsh{1308.6}{1298.2}
\end{tikzpicture}
\end{document}
